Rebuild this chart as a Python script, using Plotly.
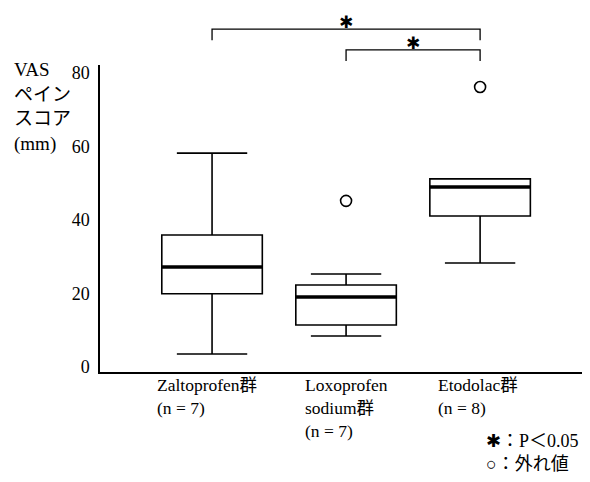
import plotly.graph_objects as go

# ---- data ----
groups = ["Zaltoprofen群<br>(n = 7)", "Loxoprofen<br>sodium群<br>(n = 7)", "Etodolac群<br>(n = 8)"]
lower_whisker = [3.5, 8.4, 28.3]
q1_vals = [19.9, 11.4, 41.1]
median_vals = [27.2, 19.0, 49.0]
q3_vals = [35.9, 22.3, 51.2]
upper_whisker = [58.2, 25.3, 51.2]
outlier_group = [1, 2]
outlier_vals = [45.2, 76.2]
y_ticks = [0, 20, 40, 60, 80]
comparisons = [(0, 2), (1, 2)]
sig_labels = ["✱", "✱"]

SERIF = "Liberation Serif, Noto Sans CJK JP, serif"
BOX_W = 0.75
xpos = list(range(len(groups)))

fig = go.Figure()
fig.add_trace(go.Box(
    x=xpos, q1=q1_vals, median=median_vals, q3=q3_vals,
    lowerfence=lower_whisker, upperfence=upper_whisker,
    width=BOX_W, whiskerwidth=0.7,
    fillcolor="white", line=dict(color="black", width=1.6),
    boxpoints=False, showlegend=False, hoverinfo="skip",
))
# thick median lines
for i, m in zip(xpos, median_vals):
    fig.add_trace(go.Scatter(
        x=[i - BOX_W / 2, i + BOX_W / 2], y=[m, m], mode="lines",
        line=dict(color="black", width=3.5), showlegend=False, hoverinfo="skip"))
# outliers
fig.add_trace(go.Scatter(
    x=outlier_group, y=outlier_vals, mode="markers",
    marker=dict(symbol="circle-open", size=11, color="black", line=dict(width=1.6)),
    showlegend=False, hoverinfo="skip"))

# significance brackets (paper y above plot)
levels = [(1.117, 1.081), (1.049, 1.013)]
star_gap = 0.062
for (a, b), (ytop, ybot), lab in zip(comparisons, levels, sig_labels):
    fig.add_shape(type="path", xref="x", yref="paper",
                  path=f"M {a},{ybot} L {a},{ytop} L {b},{ytop} L {b},{ybot}",
                  line=dict(color="black", width=1.3))
    fig.add_annotation(x=(a + b) / 2, xref="x", y=ytop + star_gap, yref="paper",
                       text=lab, showarrow=False,
                       font=dict(family="DejaVu Sans", size=17, color="black"))

# category labels
label_off = [-0.425, -0.32, -0.33]
for i, (g, off) in enumerate(zip(groups, label_off)):
    fig.add_annotation(x=i + off, xref="x", y=-0.003, yref="paper", text=g,
                       showarrow=False, xanchor="left", yanchor="top", align="left",
                       font=dict(family=SERIF, size=17.5, color="black"))

# y axis title
fig.add_annotation(x=-0.18, xref="paper", y=1.025, yref="paper",
                   text="VAS<br>ペイン<br>スコア<br>(mm)", showarrow=False,
                   xanchor="left", yanchor="top", align="left",
                   font=dict(family=SERIF, size=19, color="black"))

# legend notes
fig.add_annotation(x=0.784, xref="paper", y=-0.185, yref="paper",
                   text="✱：P＜0.05<br>○：外れ値", showarrow=False,
                   xanchor="left", yanchor="top", align="left",
                   font=dict(family=SERIF, size=18, color="black"))

fig.update_layout(
    width=582, height=474,
    margin=dict(l=92, r=0, t=57, b=110),
    paper_bgcolor="white", plot_bgcolor="white",
    xaxis=dict(range=[-0.836, 2.82], showticklabels=False, ticks="", showgrid=False,
               zeroline=False, showline=True, linecolor="black", linewidth=1.5),
    yaxis=dict(range=[-1.4, 82.2], tickvals=y_ticks, ticks="", showgrid=False,
               zeroline=False, showline=True, linecolor="black", linewidth=1.5,
               ticklabelstandoff=5,
               tickfont=dict(family=SERIF, size=18, color="black")),
)
fig.write_html("out.html")
